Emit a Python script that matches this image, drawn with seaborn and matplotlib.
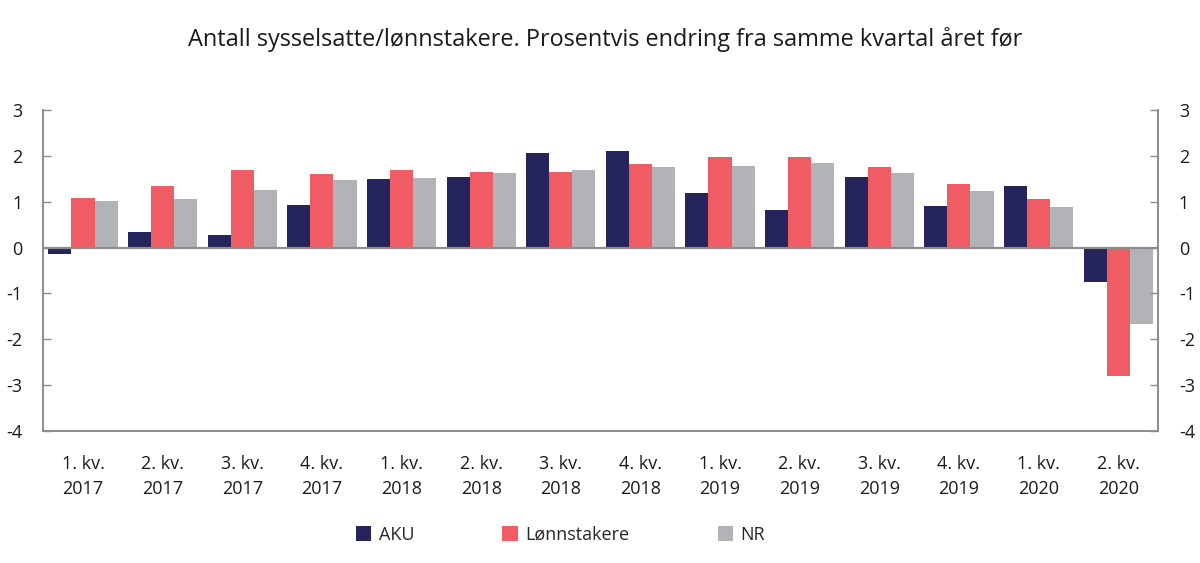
import matplotlib
matplotlib.use("Agg")
import matplotlib.pyplot as plt
import seaborn as sns
import pandas as pd
from matplotlib.patches import Patch

quarters = ["1. kv.\n2017", "2. kv.\n2017", "3. kv.\n2017", "4. kv.\n2017",
            "1. kv.\n2018", "2. kv.\n2018", "3. kv.\n2018", "4. kv.\n2018",
            "1. kv.\n2019", "2. kv.\n2019", "3. kv.\n2019", "4. kv.\n2019",
            "1. kv.\n2020", "2. kv.\n2020"]
aku = [-0.15, 0.34, 0.27, 0.92, 1.49, 1.55, 2.07, 2.11, 1.20, 0.82, 1.55, 0.90, 1.34, -0.74]
lonnstakere = [1.09, 1.34, 1.70, 1.61, 1.70, 1.65, 1.65, 1.83, 1.97, 1.98, 1.75, 1.39, 1.06, -2.81]
nr = [1.01, 1.05, 1.26, 1.47, 1.52, 1.62, 1.70, 1.75, 1.78, 1.85, 1.62, 1.23, 0.88, -1.67]
series_names = ["AKU", "Lønnstakere", "NR"]
colors = ["#25245c", "#f05c64", "#b2b3b6"]
yticks = [-4, -3, -2, -1, 0, 1, 2, 3]
title = "Antall sysselsatte/lønnstakere. Prosentvis endring fra samme kvartal året før"

df = pd.DataFrame({
    "kvartal": quarters * 3,
    "serie": [series_names[0]] * len(quarters) + [series_names[1]] * len(quarters) + [series_names[2]] * len(quarters),
    "verdi": aku + lonnstakere + nr,
})

sns.set_theme(style="white")
plt.rcParams["font.family"] = ["Open Sans", "DejaVu Sans"]

fig = plt.figure(figsize=(12, 5.63), dpi=100)
ax = fig.add_axes([0.036, 0.2345, 0.929, 0.570])

sns.barplot(data=df, x="kvartal", y="verdi", hue="serie", order=quarters,
            hue_order=series_names, palette=colors, width=0.87,
            linewidth=0, saturation=1, ax=ax, legend=False, errorbar=None)

ax.set_xlim(-0.5, len(quarters) - 0.5)
ax.set_ylim(-4, 3)
ax.set_yticks(yticks)
ax.set_yticklabels([str(t) for t in yticks])
ax.set_xlabel("")
ax.set_ylabel("")
ax.axhline(0, color="#8c8c8c", lw=1.6, zorder=5)

spine_col = "#8c8c8c"
for s in ["left", "right", "bottom"]:
    ax.spines[s].set_color(spine_col)
    ax.spines[s].set_linewidth(1.2)
ax.spines["top"].set_visible(False)

ax.tick_params(axis="y", direction="in", length=6, width=1, color=spine_col,
               labelsize=13, pad=15, labelcolor="#1a1a1a")
ax.tick_params(axis="x", length=0, labelsize=13, pad=17, labelcolor="#1a1a1a")
for lbl in ax.get_xticklabels():
    lbl.set_linespacing(1.5)

ax2 = ax.twinx()
ax2.set_ylim(-4, 3)
ax2.set_yticks(yticks)
ax2.set_yticklabels([str(t) for t in yticks])
ax2.tick_params(axis="y", direction="in", length=6, width=1, color=spine_col,
                labelsize=13, pad=15, labelcolor="#1a1a1a")
for s in ["left", "right", "bottom"]:
    ax2.spines[s].set_color(spine_col)
    ax2.spines[s].set_linewidth(1.2)
ax2.spines["top"].set_visible(False)

fig.text(0.504, 0.929, title, ha="center", va="center", fontsize=16.9, color="#1a1a1a")

handles = [Patch(facecolor=c, edgecolor="none") for c in colors]
fig.legend(handles, series_names, loc="center", bbox_to_anchor=(0.467, 0.05),
           ncol=3, frameon=False, fontsize=13, handlelength=0.85, handleheight=0.85,
           handletextpad=0.4, columnspacing=4.9)

fig.savefig("out.png", dpi=100)
